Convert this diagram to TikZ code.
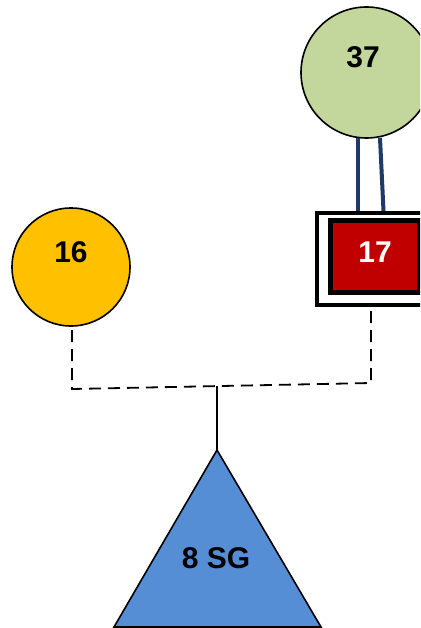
\documentclass[tikz,border=0pt]{standalone}
\usepackage{fontspec}
\setmainfont{Liberation Sans}
\begin{document}
\begin{tikzpicture}[x=1pt,y=-1pt,
  lbl/.style={font=\bfseries\fontsize{30}{30}\selectfont, inner sep=0pt},
  circ/.style={circle, draw=black, line width=1.6pt, inner sep=0pt},
  navy/.style={draw=navyc, line width=4pt},
  dashline/.style={draw=black, line width=1.8pt, dash pattern=on 12pt off 7pt},
]
\definecolor{greenc}{HTML}{C3D69B}
\definecolor{orangec}{HTML}{FFC000}
\definecolor{redc}{HTML}{C00000}
\definecolor{bluec}{HTML}{558ED5}
\definecolor{navyc}{HTML}{1F3A64}
\useasboundingbox (0,0) rectangle (420,628);
\clip (0,0) rectangle (420,628);
% circles
\node[circ, fill=greenc, minimum size=131pt] (c37) at (366.5,72.5) {};
\node[lbl] (t37) at (363,57) {37};
\node[circ, fill=orangec, minimum size=118pt] (c16) at (71,267) {};
\node[lbl] (t16) at (71,252) {16};
% box 17
\node[draw=black, line width=4pt, fill=white, minimum width=116pt, minimum height=92pt, inner sep=0pt] (b17) at (375,259) {};
\node[draw=black, line width=5pt, fill=redc, minimum width=89pt, minimum height=72pt, inner sep=0pt] (r17) at (375,256.5) {};
\node[lbl, text=white] (t17) at (375,252) {17};
% navy links
\coordinate (n1a) at (358,138);
\coordinate (n1b) at (358,211);
\coordinate (n2a) at (380,138);
\coordinate (n2b) at (383.5,211);
\draw[navy] (n1a) -- (n1b);
\draw[navy] (n2a) -- (n2b);
% triangle
\coordinate (tA) at (217,450);
\coordinate (tL) at (114,627);
\coordinate (tR) at (321,627);
\draw[fill=bluec, draw=black, line width=1.6pt, line join=miter] (tA) -- (tR) -- (tL) -- cycle;
\node[lbl] (t8) at (216,558) {8 SG};
% dashed connector
\coordinate (d0) at (72,330);
\coordinate (k1) at (72,389);
\coordinate (k2) at (371,383);
\coordinate (d3) at (371,308);
\coordinate (j) at (217,386.1);
\draw[dashline] (d0) -- (k1) -- (k2) -- (d3);
\draw[black, line width=1.6pt] (j) -- (tA);
\end{tikzpicture}
\end{document}
